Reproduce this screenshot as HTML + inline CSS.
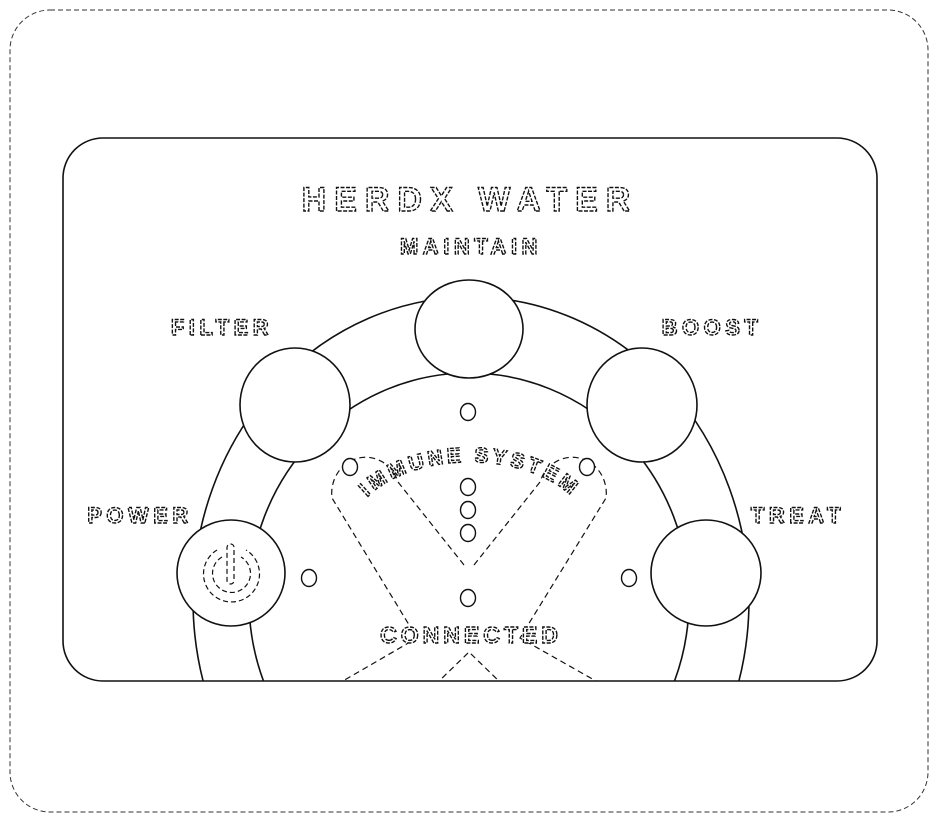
<!DOCTYPE html>
<html><head><meta charset="utf-8"><style>
html,body{margin:0;padding:0;background:#fff;width:938px;height:822px;overflow:hidden;}
svg{display:block;overflow:hidden;}
.o{fill:#fff;stroke:#111;stroke-width:1.6;}
.d{fill:none;stroke:#111;stroke-width:1.2;stroke-dasharray:6 4;}
.t{font-family:"Liberation Sans",sans-serif;font-weight:bold;fill:#fff;stroke:#111;stroke-width:1.4;stroke-dasharray:4 1.5;text-anchor:middle;}
</style></head><body>
<svg width="938" height="822" viewBox="0 0 938 822">
<rect x="10" y="10" width="918" height="802" rx="40" fill="none" stroke="#333" stroke-width="1" stroke-dasharray="5 3"/>
<rect x="63" y="138" width="814" height="543" rx="40" fill="#fff" stroke="#111" stroke-width="1.6"/>
<clipPath id="cp"><rect x="63" y="138" width="814" height="543"/></clipPath>
<g clip-path="url(#cp)">
<ellipse cx="471" cy="600" rx="278" ry="303" fill="none" stroke="#111" stroke-width="1.6"/>
<ellipse cx="469" cy="600" rx="220" ry="227" fill="none" stroke="#111" stroke-width="1.6"/>
<path class="d" d="M464,565 L398,482 A34,36 0 0 0 332,498 L417,638 L336,685"/>
<path class="d" d="M474,565 L540,482 A34,36 0 0 1 606,498 L520,638 L603,685"/>
<path class="d" d="M435,685 L469,652 L503,685"/>
</g>
<ellipse class="o" cx="469" cy="329" rx="54" ry="49"/>
<ellipse class="o" cx="295" cy="405" rx="55" ry="57"/>
<ellipse class="o" cx="642" cy="405" rx="55" ry="57"/>
<ellipse class="o" cx="231" cy="573" rx="54" ry="53"/>
<ellipse class="o" cx="706" cy="573" rx="55" ry="53"/>
<g>
<path class="d" style="stroke-dasharray:5 3" d="M222,557 A19,19 0 1 0 241,557"/>
<path class="d" style="stroke-dasharray:5 3" d="M217,550 A28,28 0 1 0 246,550"/>
<rect class="d" style="stroke-dasharray:5 3" x="227" y="544" width="7" height="40" rx="3.5"/>
</g>
<g fill="#fff" stroke="#111" stroke-width="1.4">
<ellipse cx="468" cy="412" rx="7.5" ry="8.5"/>
<ellipse cx="350" cy="467" rx="7.5" ry="8.5"/>
<ellipse cx="587" cy="467" rx="7.5" ry="8.5"/>
<ellipse cx="468" cy="487" rx="7.5" ry="8.5"/>
<ellipse cx="468" cy="510" rx="7.5" ry="8.5"/>
<ellipse cx="468" cy="533" rx="7.5" ry="8.5"/>
<ellipse cx="309" cy="578" rx="7.5" ry="8.5"/>
<ellipse cx="629" cy="578" rx="7.5" ry="8.5"/>
<ellipse cx="468" cy="598" rx="7.5" ry="8.5"/>
</g>
<text class="t" x="470" y="211" font-size="34" letter-spacing="8">HERDX WATER</text>
<text class="t" x="471" y="254" font-size="22" letter-spacing="4.5">MAINTAIN</text>
<text class="t" x="222" y="335" font-size="22" letter-spacing="4.5">FILTER</text>
<text class="t" x="712" y="335" font-size="22" letter-spacing="4.5">BOOST</text>
<text class="t" x="140" y="523" font-size="22" letter-spacing="4.5">POWER</text>
<text class="t" x="798" y="523" font-size="22" letter-spacing="4.5">TREAT</text>
<text class="t" x="471" y="643" font-size="23" letter-spacing="4">CONNECTED</text>
<path id="arcp" d="M350,535 A120,73 0 0 1 590,535" fill="none"/>
<text class="t" font-size="21" letter-spacing="3.5"><textPath href="#arcp" startOffset="50%">IMMUNE SYSTEM</textPath></text>
</svg>
</body></html>
